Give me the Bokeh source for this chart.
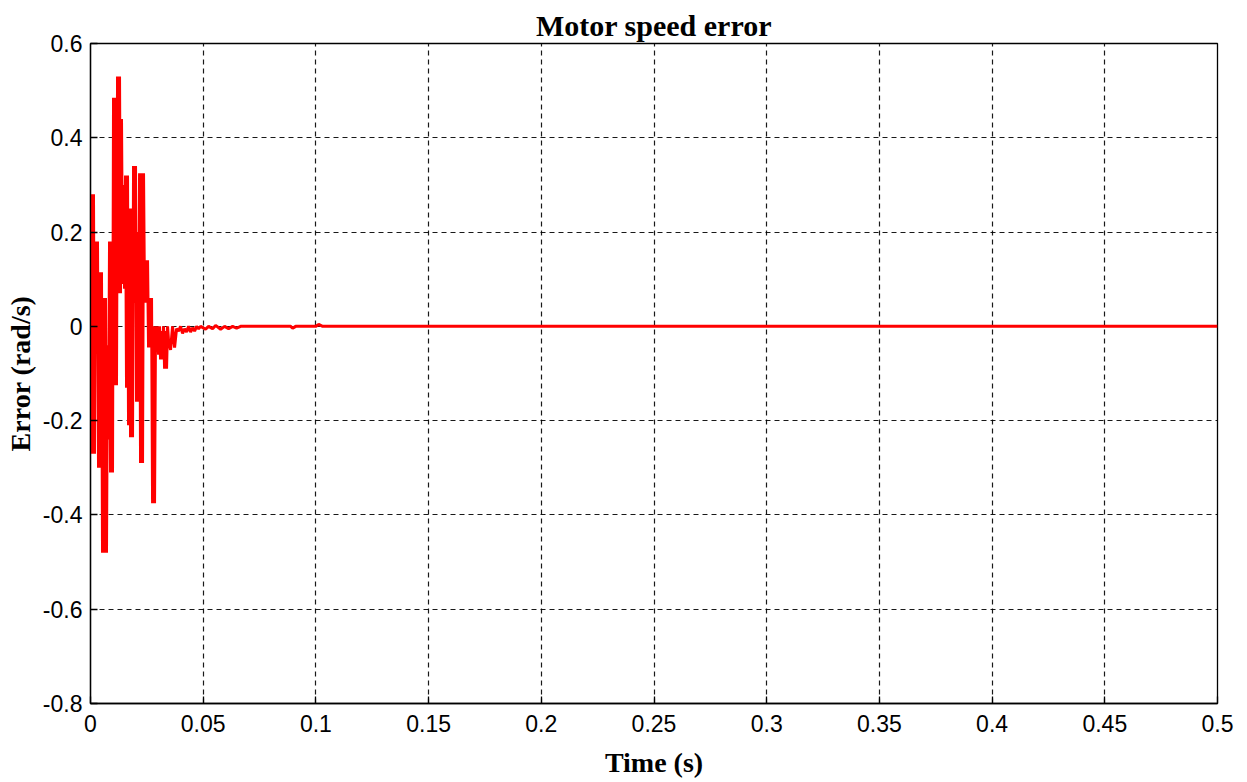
from bokeh.plotting import figure
from bokeh.models import Range1d, FixedTicker, CustomJSTickFormatter
from bokeh.embed import file_html
from bokeh.resources import INLINE

# time in milliseconds, error in rad/s
t_ms = [0.00, 0.44, 0.89, 1.33, 1.78, 2.22, 2.66, 3.11, 3.55, 4.00, 4.44, 4.88, 5.33, 5.77,
        6.22, 6.66, 7.10, 7.55, 7.99, 8.44, 8.88, 9.32, 9.77, 10.21, 10.66, 11.10, 11.54,
        11.99, 12.43, 12.88, 13.32, 13.76, 14.21, 14.65, 15.10, 15.54, 15.98, 16.43, 16.87,
        17.32, 17.76, 18.20, 18.65, 19.09, 19.54, 19.98, 20.42, 20.87, 21.31, 21.76, 22.20,
        22.64, 23.09, 23.53, 23.98, 24.42, 24.86, 25.31, 25.75, 26.20, 26.64, 27.08, 27.53,
        27.97, 28.42, 28.86, 29.30, 29.75, 30.19, 30.64, 31.08, 31.52, 31.97, 32.41, 32.86,
        33.30, 33.74, 34.19, 34.63,
        35.52, 36.41, 37.30, 38.18, 39.07, 39.96, 40.85, 41.74, 42.62, 43.51, 44.40, 45.29,
        46.18, 47.06, 47.95, 48.84,
        51.06, 52.39, 54.17, 55.50, 57.72, 59.50, 61.27, 63.05, 64.82, 66.60,
        88.80, 89.69, 91.02, 99.90, 101.23, 103.01, 500.0]

error = [0.10, 0.28, -0.27, 0.28, -0.27, 0.18, -0.02, 0.18, -0.30, 0.115, -0.30, 0.115,
         -0.48, 0.06, -0.48, 0.06, -0.48, -0.04, -0.24, 0.18, -0.31, 0.18, -0.31, 0.485,
         -0.125, 0.485, -0.125, 0.53, 0.07, 0.53, 0.07, 0.44, 0.09, 0.30, 0.08, 0.32, -0.13,
         0.32, -0.21, 0.25, -0.235, 0.25, -0.235, 0.34, 0.05, 0.34, -0.16, 0.20, -0.16, 0.325,
         -0.29, 0.325, -0.29, 0.325, 0.05, 0.14, 0.05, 0.14, -0.045, 0.06, -0.045, 0.06,
         -0.375, 0.0, -0.375, 0.0, -0.04, 0.0, -0.06, 0.0, -0.07, -0.01, -0.07, 0.0, -0.09,
         -0.01, -0.09, 0.0, -0.03,
         -0.05, 0.0, -0.045, -0.005, -0.01, 0.0, -0.015, -0.005, -0.012, 0.0, -0.012, -0.003,
         -0.01, 0.0, -0.005, 0.0,
         -0.006, 0.0, -0.005, 0.002, -0.006, 0.0, -0.005, 0.0, -0.004, 0.0,
         0.0, -0.004, 0.0, 0.0, 0.004, 0.0, 0.0]

x_ticks = [0, 0.05, 0.1, 0.15, 0.2, 0.25, 0.3, 0.35, 0.4, 0.45, 0.5]
y_ticks = [-0.8, -0.6, -0.4, -0.2, 0, 0.2, 0.4, 0.6]

t_s = [v / 1000.0 for v in t_ms]

p = figure(width=1247, height=782, output_backend="svg", toolbar_location=None,
           x_range=Range1d(0, 0.5), y_range=Range1d(-0.8, 0.6),
           min_border_left=90, min_border_right=30, min_border_top=43, min_border_bottom=79,
           title="Motor speed error")
p.background_fill_color = "white"
p.border_fill_color = "white"
p.outline_line_color = "black"
p.outline_line_width = 1.3

p.title.align = "center"
p.title.text_font = "Liberation Serif"
p.title.text_font_style = "bold"
p.title.text_font_size = "30px"
p.title.text_color = "black"
p.title.offset = -9
p.title.standoff = 4

fmt = CustomJSTickFormatter(code="return String(tick);")

for ax in p.xaxis:
    ax.ticker = FixedTicker(ticks=x_ticks)
    ax.formatter = fmt
    ax.axis_label = "Time (s)"
for ax in p.yaxis:
    ax.ticker = FixedTicker(ticks=y_ticks)
    ax.formatter = fmt
    ax.axis_label = "Error (rad/s)"

for ax in list(p.xaxis) + list(p.yaxis):
    ax.axis_label_text_font = "Liberation Serif"
    ax.axis_label_text_font_style = "bold"
    ax.axis_label_text_font_size = "28px"
    ax.axis_label_text_color = "black"
    ax.major_label_text_font = "Liberation Sans"
    ax.major_label_text_font_size = "23px"
    ax.major_label_text_color = "black"
    ax.major_tick_in = 7
    ax.major_tick_out = 0
    ax.minor_tick_line_color = None
    ax.axis_line_color = "black"
    ax.axis_line_width = 1.3
    ax.major_tick_line_color = "black"
    ax.major_tick_line_width = 1.3

p.xaxis.major_label_standoff = 11
p.yaxis.major_label_standoff = 8
p.xaxis.axis_label_standoff = 12
p.yaxis.axis_label_standoff = 4

p.xgrid.ticker = FixedTicker(ticks=x_ticks)
p.ygrid.ticker = FixedTicker(ticks=y_ticks)
for g in (p.xgrid, p.ygrid):
    g.grid_line_color = "black"
    g.grid_line_dash = "5 4"
    g.grid_line_width = 1.2
    g.grid_line_alpha = 0.9

p.line(t_s, error, line_color="#ff0000", line_width=3)

open("out.html", "w").write(file_html(p, INLINE))
